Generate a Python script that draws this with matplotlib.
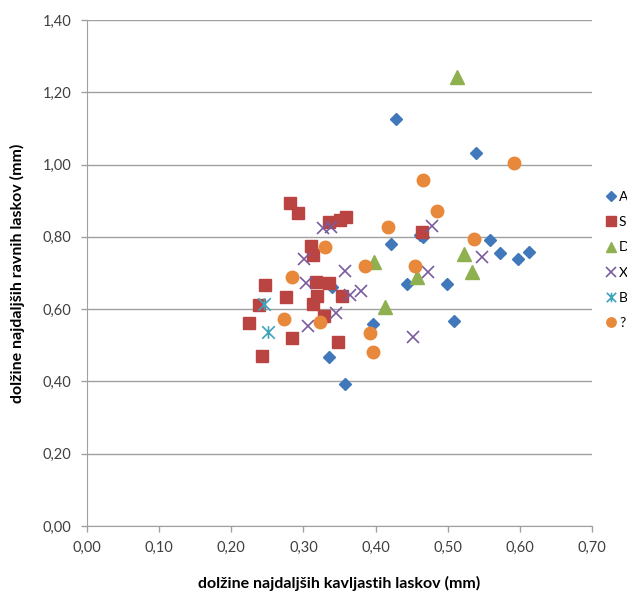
import matplotlib
matplotlib.use("Agg")
import matplotlib.pyplot as plt
from matplotlib.path import Path
from matplotlib.ticker import FuncFormatter, MultipleLocator

plt.rcParams['font.family'] = ['Lato', 'DejaVu Sans']

# kavljasti (x) in ravni (y) laski po skupinah
a_x = [0.429, 0.539, 0.462, 0.466, 0.421, 0.559, 0.572, 0.597, 0.612, 0.444, 0.499, 0.509, 0.339, 0.396, 0.335, 0.357]
a_y = [1.126, 1.032, 0.805, 0.800, 0.781, 0.791, 0.755, 0.738, 0.759, 0.669, 0.670, 0.567, 0.660, 0.559, 0.467, 0.393]

s_x = [0.281, 0.292, 0.336, 0.351, 0.359, 0.310, 0.313, 0.247, 0.317, 0.335, 0.276, 0.319, 0.354, 0.313, 0.238, 0.329, 0.224, 0.284, 0.348, 0.242, 0.465]
s_y = [0.893, 0.865, 0.842, 0.847, 0.856, 0.775, 0.750, 0.667, 0.676, 0.673, 0.633, 0.635, 0.635, 0.614, 0.612, 0.581, 0.561, 0.521, 0.510, 0.471, 0.814]

d_x = [0.513, 0.523, 0.458, 0.534, 0.413, 0.398]
d_y = [1.241, 0.752, 0.688, 0.704, 0.605, 0.730]

x_x = [0.478, 0.547, 0.472, 0.452, 0.327, 0.338, 0.301, 0.358, 0.303, 0.364, 0.380, 0.345, 0.306]
x_y = [0.831, 0.745, 0.704, 0.524, 0.824, 0.826, 0.740, 0.706, 0.671, 0.639, 0.650, 0.589, 0.553]

b_x = [0.245, 0.251]
b_y = [0.615, 0.538]

q_x = [0.592, 0.466, 0.485, 0.417, 0.536, 0.455, 0.330, 0.386, 0.284, 0.273, 0.323, 0.392, 0.396]
q_y = [1.003, 0.957, 0.871, 0.826, 0.795, 0.720, 0.772, 0.719, 0.689, 0.572, 0.565, 0.534, 0.482]

labels = ['A', 'S', 'D', 'X', 'B', '?']

# zvezdica: X in navpična črta
star = Path([(-0.5, -0.5), (0.5, 0.5), (-0.5, 0.5), (0.5, -0.5), (0, -0.5), (0, 0.5)],
            [Path.MOVETO, Path.LINETO, Path.MOVETO, Path.LINETO, Path.MOVETO, Path.LINETO])

fig = plt.figure(figsize=(6.27, 5.94), dpi=100)
ax = fig.add_axes([87 / 627, 1 - 526 / 594, 505 / 627, 506 / 594])

ax.plot(a_x, a_y, 'D', ms=6.3, color='#4177bb', mec='#4177bb', ls='none', label=labels[0])
ax.plot(s_x, s_y, 's', ms=9, color='#b94441', mec='#b94441', ls='none', label=labels[1])
ax.plot(d_x, d_y, '^', ms=9.5, color='#8fb04f', mec='#8fb04f', ls='none', label=labels[2])
ax.plot(x_x, x_y, 'x', ms=9, color='#7a5c9e', mew=1.2, ls='none', label=labels[3])
ax.plot(b_x, b_y, marker=star, ms=9, color='#3fa3bd', mew=1.2, ls='none', label=labels[4])
ax.plot(q_x, q_y, 'o', ms=9, color='#e8883b', mec='#e8883b', ls='none', label=labels[5])

ax.set_xlim(0, 0.70)
ax.set_ylim(0, 1.40)
ax.xaxis.set_major_locator(MultipleLocator(0.1))
ax.yaxis.set_major_locator(MultipleLocator(0.2))
fmt = FuncFormatter(lambda v, p: f'{v:.2f}'.replace('.', ','))
ax.xaxis.set_major_formatter(fmt)
ax.yaxis.set_major_formatter(fmt)

ax.grid(axis='y', color='#a0a0a0', lw=1)
ax.set_axisbelow(True)
for side in ['top', 'right']:
    ax.spines[side].set_visible(False)
for side in ['left', 'bottom']:
    ax.spines[side].set_color('#a0a0a0')
ax.tick_params(axis='both', direction='out', length=4, width=1, color='#a0a0a0',
               labelsize=10.5, labelcolor='#404040', pad=7)

ax.set_xlabel('dolžine najdaljših kavljastih laskov (mm)', fontsize=11.5, fontweight='bold', labelpad=15)
ax.set_ylabel('dolžine najdaljših ravnih laskov (mm)', fontsize=11.5, fontweight='bold', labelpad=13)

ax.legend(loc='upper left', bbox_to_anchor=(605 / 627, 1 - 191 / 594), bbox_transform=fig.transFigure,
          frameon=False, handlelength=0.8, handletextpad=0.2, labelspacing=0.95,
          borderaxespad=0, borderpad=0, fontsize=10, markerscale=0.75)

fig.savefig('out.png', dpi=100)
